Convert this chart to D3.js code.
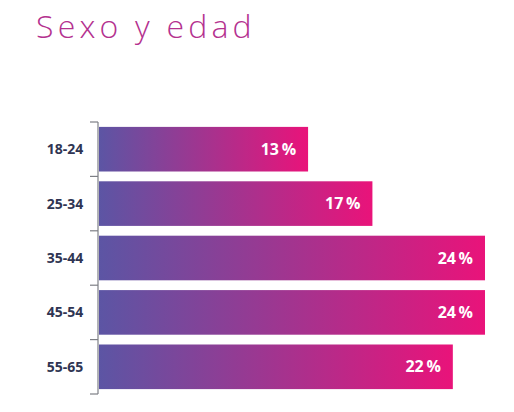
<!DOCTYPE html>
<html lang="es">
<head>
    <meta charset="UTF-8">
    <title>Sexo y edad</title>
    <script src="https://d3js.org/d3.v7.min.js"></script>
    <style>
        body {
            margin: 0;
            background: #fff;
            font-family: "Open Sans", Lato, sans-serif;
        }
        .title {
            font-weight: 300;
            font-size: 32px;
            letter-spacing: 4.2px;
            fill: #b4318f;
        }
        .cat-label {
            font-weight: bold;
            font-size: 14px;
            fill: #2f3553;
        }
        .val-label {
            font-weight: bold;
            font-size: 16px;
            fill: #fff;
        }
    </style>
</head>
<body>
    <div id="chart"></div>

    <script>
        // Data
        const ageGroups = ["18-24", "25-34", "35-44", "45-54", "55-65"];
        const shares = [13, 17, 24, 24, 22];

        const width = 514, height = 412;
        const margin = { top: 122, right: 29, bottom: 18, left: 99 };

        const svg = d3.select("#chart")
                      .append("svg")
                      .attr("width", width)
                      .attr("height", height);

        // Gradient (per bar, purple -> pink)
        const grad = svg.append("defs")
                        .append("linearGradient")
                        .attr("id", "barGrad")
                        .attr("x1", "0%").attr("x2", "100%")
                        .attr("y1", "0%").attr("y2", "0%");
        grad.append("stop").attr("offset", "0%").attr("stop-color", "#5c55a4");
        grad.append("stop").attr("offset", "100%").attr("stop-color", "#e9137a");

        // Title
        svg.append("text")
           .attr("class", "title")
           .attr("x", 36)
           .attr("y", 38)
           .text("Sexo y edad");

        // Scales
        const x = d3.scaleLinear()
                    .domain([0, 24])
                    .range([margin.left, margin.left + 386]);

        const y = d3.scaleBand()
                    .domain(ageGroups)
                    .range([margin.top, height - margin.bottom])
                    .paddingInner(0.18)
                    .paddingOuter(0.09);

        // Axis with ticks between the bands
        const step = y.step();
        const bandTop = margin.top;
        const axisG = svg.append("g");
        axisG.append("line")
             .attr("x1", margin.left - 1).attr("x2", margin.left - 1)
             .attr("y1", bandTop).attr("y2", bandTop + step * ageGroups.length)
             .attr("stroke", "#7d7f85").attr("stroke-width", 1.2);
        axisG.selectAll(".tick")
             .data(d3.range(ageGroups.length + 1))
             .join("line")
             .attr("x1", margin.left - 9).attr("x2", margin.left - 1)
             .attr("y1", i => bandTop + i * step)
             .attr("y2", i => bandTop + i * step)
             .attr("stroke", "#7d7f85").attr("stroke-width", 1.2);

        // Category labels
        svg.selectAll(".cat-label")
           .data(ageGroups)
           .join("text")
           .attr("class", "cat-label")
           .attr("x", margin.left - 34)
           .attr("y", d => y(d) + y.bandwidth() / 2)
           .attr("dy", "0.35em")
           .attr("text-anchor", "middle")
           .text(d => d);

        // Bars
        svg.selectAll(".bar")
           .data(shares)
           .join("rect")
           .attr("class", "bar")
           .attr("x", x(0))
           .attr("y", (d, i) => y(ageGroups[i]))
           .attr("width", d => x(d) - x(0))
           .attr("height", y.bandwidth())
           .attr("fill", "url(#barGrad)");

        // Value labels
        svg.selectAll(".val-label")
           .data(shares)
           .join("text")
           .attr("class", "val-label")
           .attr("x", d => x(d) - 12)
           .attr("y", (d, i) => y(ageGroups[i]) + y.bandwidth() / 2)
           .attr("dy", "0.35em")
           .attr("text-anchor", "end")
           .text(d => d + "\u2009%");
    </script>
</body>
</html>
